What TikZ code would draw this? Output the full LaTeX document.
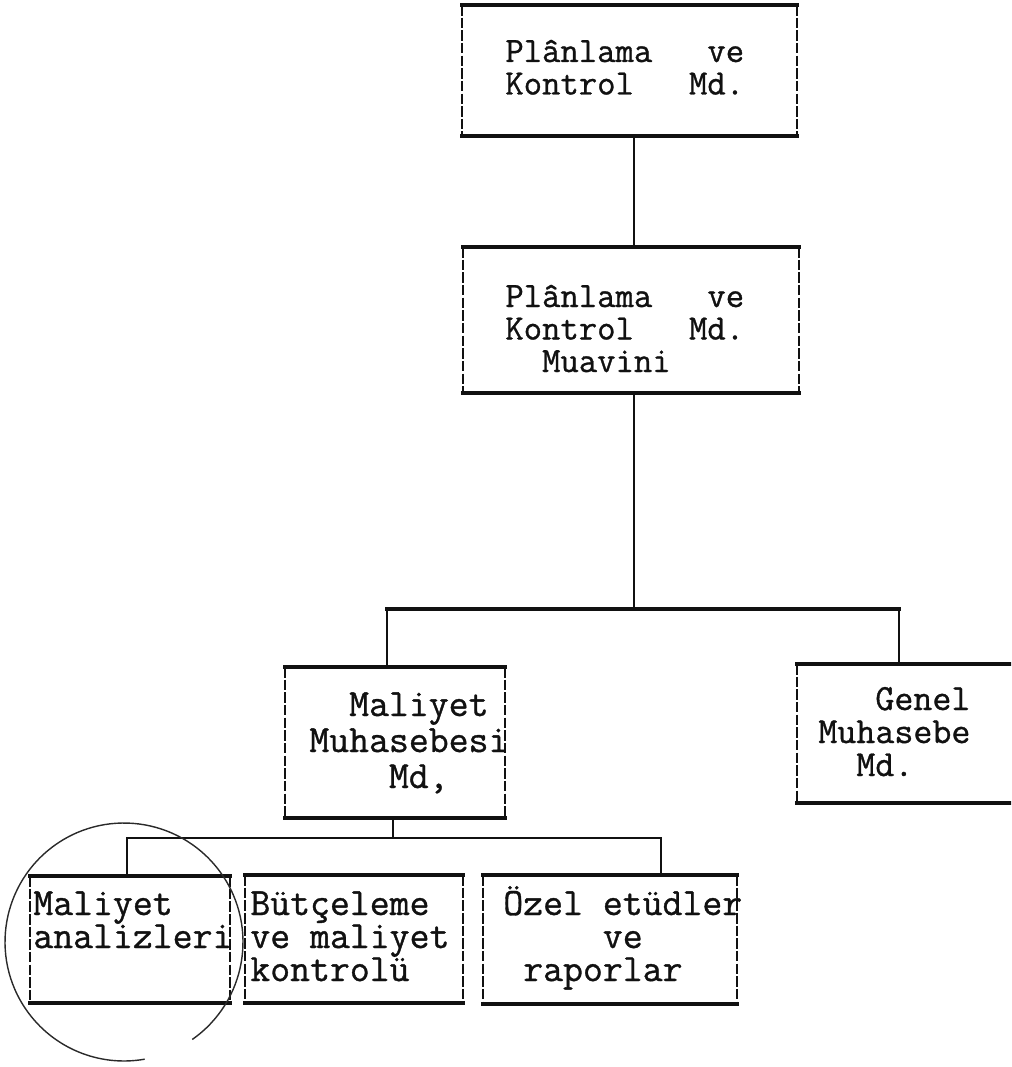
\documentclass[tikz,border=0pt]{standalone}
\usepackage{fontspec}
\newfontfamily\typewriterface{Latin Modern Mono}[FakeBold=0.9]
\usetikzlibrary{fit}
\definecolor{inkBlack}{HTML}{111111}
\definecolor{pencilGray}{HTML}{2A2A2A}
\newcommand{\orgRuleW}{2pt}
\newcommand{\orgSideW}{0.7pt}
\newcommand{\orgLinkW}{1.4pt}
% one typewriter cell, so typed spacing keeps the pitch
\newcommand{\blank}{\phantom{x}}
\tikzset{
  unitbox/.style={inner sep=0pt, outer sep=0pt, draw=none},
  boxrule/.style={inkBlack, line width=\orgRuleW, line cap=rect},
  boxside/.style={inkBlack, line width=\orgSideW, dash pattern=on 6pt off 1.2pt},
  link/.style={inkBlack, line width=\orgLinkW},
  bus/.style={inkBlack, line width=2pt, line cap=rect},
  typed/.style={anchor=base west, inner sep=0pt, text width=6cm, align=left, text=inkBlack},
  typedTop/.style={typed, font=\typewriterface\fontsize{20.3pt}{18.5pt}\selectfont},
  typedMid/.style={typed, font=\typewriterface\fontsize{22pt}{20.5pt}\selectfont},
  typedSide/.style={typed, font=\typewriterface\fontsize{21pt}{18.8pt}\selectfont},
  typedLow/.style={typed, font=\typewriterface\fontsize{22pt}{18.8pt}\selectfont},
}
\begin{document}
\begin{tikzpicture}[x=0.02cm, y=-0.02cm]
  % sheet, pixel units measured down from the top edge
  \useasboundingbox (0,0) rectangle (1011,1067);
  \clip (0,0) rectangle (1011,1067);

  % --- boxes (corners) ---
  \node[unitbox, fit={(462,5) (797,136)}] (pkm) {};
  \node[unitbox, fit={(463,247) (799,393)}] (pkmm) {};
  \node[unitbox, fit={(285,667) (505,818)}] (mmd) {};
  \node[unitbox, fit={(797,664) (1030,803)}] (gmd) {};
  \node[unitbox, fit={(30,876) (230,1003)}] (man) {};
  \node[unitbox, fit={(245,875) (463,1003)}] (but) {};
  \node[unitbox, fit={(483,875) (737,1004)}] (oze) {};

  % heavy typed rules top and bottom, light sides
  \foreach \b in {pkm,pkmm,mmd,gmd,man,but,oze} {
    \draw[boxside] (\b.north west) -- (\b.south west)
                   (\b.north east) -- (\b.south east);
    \draw[boxrule] (\b.north west) -- (\b.north east)
                   (\b.south west) -- (\b.south east);
  }

  % --- typed texts ---
  \node[typedTop] (pkmT) at (505,62)
    {Plânlama\blank\blank\blank ve\\Kontrol\blank\blank\blank Md.};
  \node[typedTop] (pkmmT) at (505,307)
    {Plânlama\blank\blank\blank ve\\Kontrol\blank\blank\blank Md.\\\blank\blank Muavini};
  \node[typedMid] (mmdT) at (309,716)
    {\blank\blank Maliyet\\Muhasebesi\\\blank\blank\blank\blank Md,};
  \node[typedSide] (gmdT) at (818,710)
    {\blank\blank\blank Genel\\Muhasebe\\\blank\blank Md.};
  \node[typedLow] (manT) at (33,915) {Maliyet\\analizleri};
  \node[typedLow] (butT) at (250,915) {Bütçeleme\\ve\blank maliyet\\kontrolü};
  \node[typedLow] (ozeT) at (503,915)
    {Özel\blank etüdler\\\blank\blank\blank\blank\blank ve\\\blank raporlar};

  % --- connectors ---
  \coordinate (busM) at (634,609);
  \coordinate (busL) at (387,609);
  \coordinate (busR) at (899,609);
  \draw[link] (pkm.south -| busM) -- (pkmm.north -| busM);
  \draw[link] (pkmm.south -| busM) -- (busM);
  \draw[bus] (busL) -- (busR);
  \draw[link] (busL) -- (busL |- mmd.north);
  \draw[link] (busR) -- (busR |- gmd.north);

  \coordinate (subM) at (393,838);
  \coordinate (subL) at (127,838);
  \coordinate (subR) at (661,838);
  \draw[link] (mmd.south -| subM) -- (subM);
  \draw[link, line width=1.2pt, line cap=rect] (subL) -- (subR);
  \draw[link] (subL) -- (subL |- man.north);
  \draw[link] (subR) -- (subR |- oze.north);

  % pencil ring round the first unit
  \draw[pencilGray, line width=0.8pt]
    (124,942) ++(-55:2.38cm) arc[start angle=-55, end angle=280, radius=2.38cm];
\end{tikzpicture}
\end{document}
